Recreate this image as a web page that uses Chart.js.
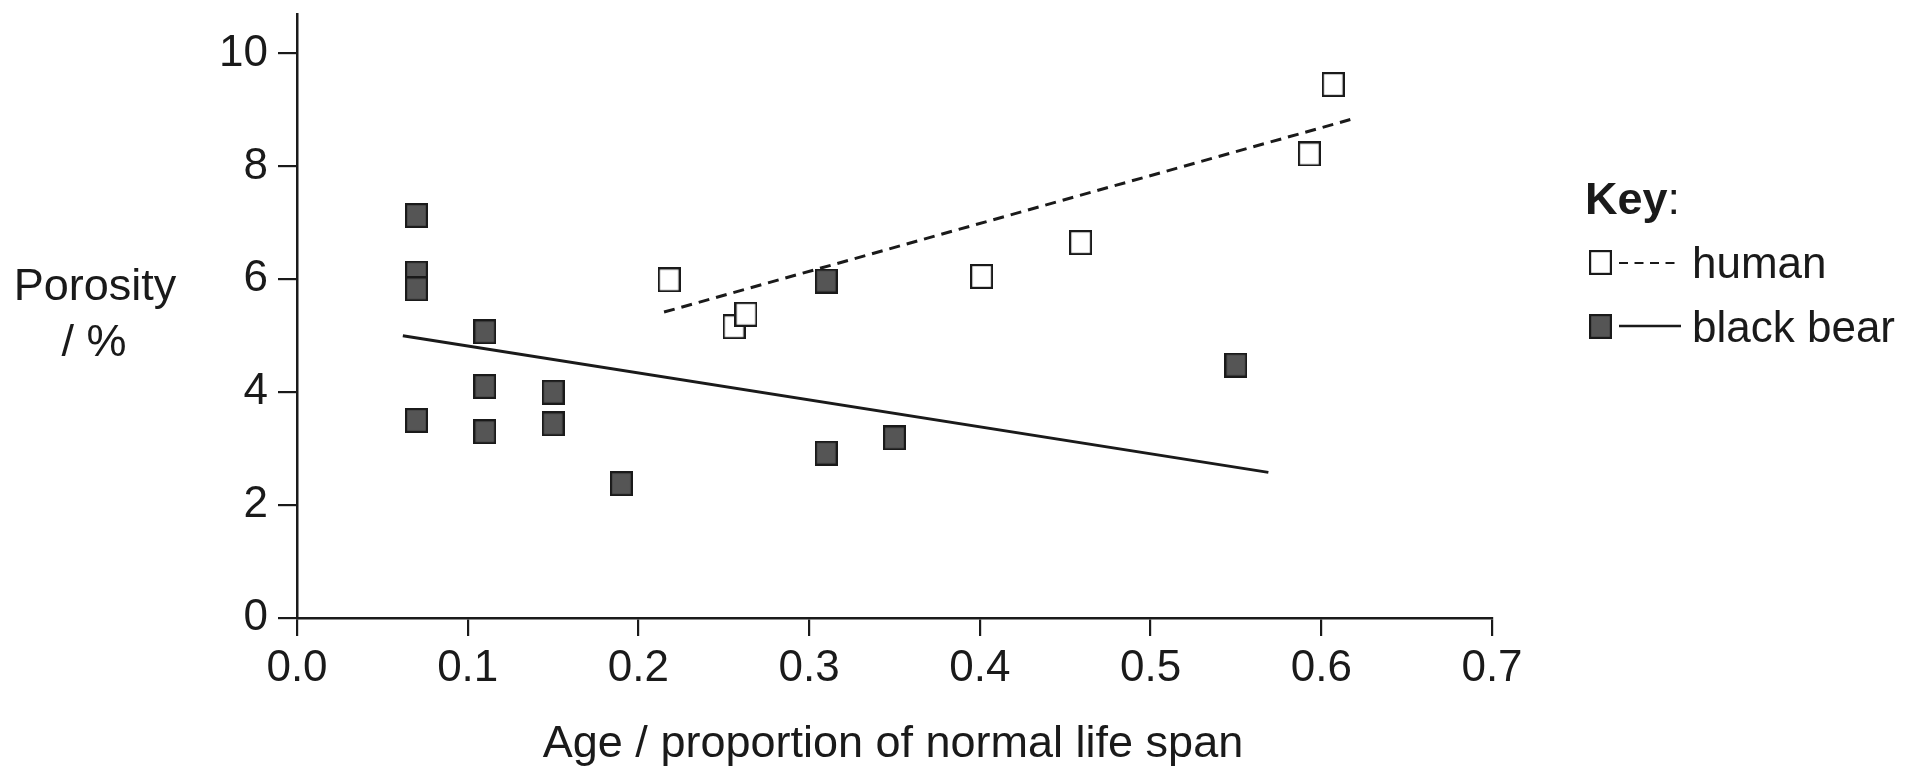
<!DOCTYPE html>
<html>
<head>
<meta charset="utf-8">
<script src="https://cdn.jsdelivr.net/npm/chart.js@4/dist/chart.umd.min.js"></script>
<style>
    html, body { margin: 0; padding: 0; background: #fff; }
    #wrap { width: 1915px; height: 776px; position: relative; }
</style>
</head>
<body>
<div id="wrap"><canvas id="chart"></canvas></div>
<script>
// values
const bearAge      = [0.07, 0.07, 0.07, 0.07, 0.11, 0.11, 0.11, 0.15, 0.15, 0.19, 0.31, 0.31, 0.35, 0.55];
const bearPorosity = [7.13, 6.11, 5.83, 3.50, 5.07, 4.10, 3.30, 4.00, 3.44, 2.38, 5.97, 2.92, 3.19, 4.48];

const humanAge      = [0.218, 0.256, 0.263, 0.401, 0.459, 0.593, 0.607];
const humanPorosity = [5.99, 5.16, 5.38, 6.05, 6.65, 8.22, 9.45];

const humanTrendAge      = [0.215, 0.617];
const humanTrendPorosity = [5.42, 8.83];
const bearTrendAge       = [0.062, 0.569];
const bearTrendPorosity  = [5.00, 2.58];

const xTickValues = [0, 0.1, 0.2, 0.3, 0.4, 0.5, 0.6, 0.7];
const yTickValues = [0, 2, 4, 6, 8, 10];

const xTitle = 'Age / proportion of normal life span';
const yTitle = ['Porosity', '/ %'];
const keyTitle = 'Key';
const seriesNames = ['human', 'black bear'];

const INK = '#1a1a1a';
const FONT = '"Liberation Sans", Arial, Helvetica, sans-serif';
Chart.defaults.font.family = FONT;
Chart.defaults.color = INK;

function makeMarker(fill) {
    const c = document.createElement('canvas');
    c.width = 23; c.height = 25;
    const g = c.getContext('2d');
    g.fillStyle = fill;
    g.fillRect(1, 1, 21, 23);
    g.strokeStyle = INK;
    g.lineWidth = 2.2;
    g.strokeRect(1.1, 1.1, 20.8, 22.8);
    return c;
}
const humanMarker = makeMarker('#ffffff');
const bearMarker = makeMarker('#555555');

const pts = (xs, ys) => xs.map((x, i) => ({ x: x, y: ys[i] }));

// texts outside the plot: y title, x title, key
const textPlugin = {
    id: 'texts',
    afterDraw(chart) {
        const ctx = chart.ctx;
        ctx.save();
        ctx.fillStyle = INK;
        ctx.textBaseline = 'alphabetic';

        ctx.font = '45px ' + FONT;
        ctx.textAlign = 'center';
        ctx.fillText(yTitle[0], 95, 300);
        ctx.fillText(yTitle[1], 94, 356);
        ctx.fillText(xTitle, 893, 757);

        // key
        ctx.textAlign = 'left';
        ctx.font = 'bold 45px ' + FONT;
        ctx.fillText(keyTitle, 1585, 214);
        const kw = ctx.measureText(keyTitle).width;
        ctx.font = '45px ' + FONT;
        ctx.fillText(':', 1585 + kw, 214);

        ctx.drawImage(humanMarker, 1589, 250);
        ctx.drawImage(bearMarker, 1589, 314);

        ctx.strokeStyle = INK;
        ctx.lineWidth = 2.2;
        ctx.setLineDash([9, 6.5]);
        ctx.beginPath(); ctx.moveTo(1619, 263); ctx.lineTo(1681, 263); ctx.stroke();
        ctx.setLineDash([]);
        ctx.lineWidth = 2.5;
        ctx.beginPath(); ctx.moveTo(1619, 326); ctx.lineTo(1681, 326); ctx.stroke();

        ctx.font = '44px ' + FONT;
        ctx.fillText(seriesNames[0], 1692, 278);
        ctx.fillText(seriesNames[1], 1692, 342);
        ctx.restore();
    }
};

new Chart(document.getElementById('chart'), {
    type: 'scatter',
    data: {
        datasets: [
            {
                label: seriesNames[0],
                data: pts(humanAge, humanPorosity),
                pointStyle: humanMarker,
                order: 0,
                clip: false
            },
            {
                label: seriesNames[1],
                data: pts(bearAge, bearPorosity),
                pointStyle: bearMarker,
                order: 0,
                clip: false
            },
            {
                label: 'human trend',
                data: pts(humanTrendAge, humanTrendPorosity),
                showLine: true,
                borderColor: INK,
                borderWidth: 3,
                borderDash: [11, 7],
                pointRadius: 0,
                order: 1
            },
            {
                label: 'black bear trend',
                data: pts(bearTrendAge, bearTrendPorosity),
                showLine: true,
                borderColor: INK,
                borderWidth: 3,
                pointRadius: 0,
                order: 1
            }
        ]
    },
    options: {
        responsive: true,
        maintainAspectRatio: false,
        animation: false,
        events: [],
        layout: { padding: { left: 0, right: 423, top: 14, bottom: 0 } },
        plugins: {
            legend: { display: false },
            tooltip: { enabled: false },
            title: { display: false }
        },
        scales: {
            x: {
                type: 'linear',
                position: 'bottom',
                min: 0,
                max: 0.7,
                afterBuildTicks: s => { s.ticks = xTickValues.map(v => ({ value: v })); },
                afterFit: s => { s.height = 158; s.paddingLeft = 0; s.paddingRight = 0; },
                ticks: {
                    font: { size: 44 },
                    color: INK,
                    padding: 6,
                    maxRotation: 0,
                    autoSkip: false,
                    callback: v => v.toFixed(1)
                },
                grid: { drawOnChartArea: false, drawTicks: true, tickLength: 18, color: INK, lineWidth: 2.2 },
                border: { display: true, color: INK, width: 2.5 }
            },
            y: {
                type: 'linear',
                min: 0,
                max: 10.7,
                afterBuildTicks: s => { s.ticks = yTickValues.map(v => ({ value: v })); },
                afterFit: s => { s.width = 297; s.paddingTop = 0; s.paddingBottom = 0; },
                ticks: {
                    font: { size: 44 },
                    color: INK,
                    padding: 10,
                    autoSkip: false,
                    callback: v => String(v)
                },
                grid: { drawOnChartArea: false, drawTicks: true, tickLength: 19, color: INK, lineWidth: 2.2 },
                border: { display: true, color: INK, width: 2.5 }
            }
        }
    },
    plugins: [textPlugin]
});
</script>
</body>
</html>
